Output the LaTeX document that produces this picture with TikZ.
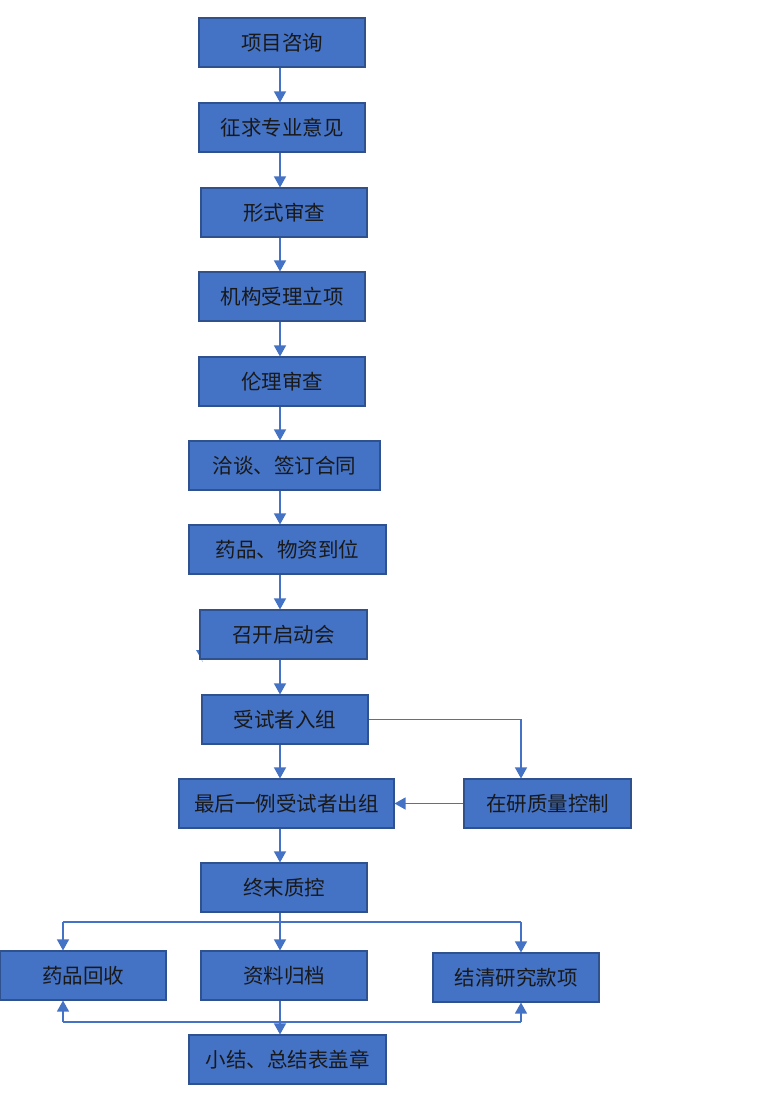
\documentclass[tikz,border=0pt]{standalone}
\usepackage{fontspec}
\newfontfamily\cjk{Noto Sans CJK SC}
\usetikzlibrary{arrows.meta}
\definecolor{boxfill}{HTML}{4472C4}
\definecolor{boxline}{HTML}{2F528F}
\definecolor{conn}{HTML}{4472C4}
\begin{document}
\begin{tikzpicture}[x=1pt,y=-1pt,
  stepbox/.style={draw=boxline, fill=boxfill, line width=1.1pt, minimum height=49pt, inner sep=0pt,
    font=\cjk\fontsize{20.5}{24}\selectfont, text=black!90},
  link/.style={draw=conn, line width=1.3pt},
  arr/.style={link, -{Triangle[width=12pt,length=11pt]}}]
\path[use as bounding box] (0,0) rectangle (764,1096);
\coordinate (ax) at (280,0);
\coordinate (lx) at (63,0);
\coordinate (rx) at (521,0);
\node[stepbox, minimum width=166pt] (i1) at (282,42.5) {项目咨询};
\node[stepbox, minimum width=166pt] (i2) at (282,127.5) {征求专业意见};
\node[stepbox, minimum width=166pt] (i3) at (284,212.5) {形式审查};
\node[stepbox, minimum width=166pt] (i4) at (282,296.5) {机构受理立项};
\node[stepbox, minimum width=166pt] (i5) at (282,381.5) {伦理审查};
\node[stepbox, minimum width=191pt] (i6) at (284.5,465.5) {洽谈、签订合同};
\node[stepbox, minimum width=197pt] (i7) at (287.5,549.5) {药品、物资到位};
\fill[boxfill] (196,650) -- (201.5,650) -- (201.5,660) -- (203,662) -- cycle;
\node[stepbox, minimum width=167pt] (i8) at (283.5,634.5) {召开启动会};
\node[stepbox, minimum width=166pt] (i9) at (285,719.5) {受试者入组};
\node[stepbox, minimum width=215pt] (i10) at (286.5,803.5) {最后一例受试者出组};
\node[stepbox, minimum width=167pt] (i11) at (547.5,803.5) {在研质量控制};
\node[stepbox, minimum width=166pt] (i12) at (284,887.5) {终末质控};
\node[stepbox, minimum width=166pt] (i13) at (83,975.5) {药品回收};
\node[stepbox, minimum width=166pt] (i14) at (284,975.5) {资料归档};
\node[stepbox, minimum width=166pt] (i15) at (516,977.5) {结清研究款项};
\node[stepbox, minimum width=197pt] (i16) at (287.5,1059.5) {小结、总结表盖章};
\foreach \a/\b in {i1/i2,i2/i3,i3/i4,i4/i5,i5/i6,i6/i7,i7/i8,i8/i9,i9/i10,i10/i12}
  \draw[arr] (\a.south -| ax) -- (\b.north -| ax);
\draw[arr] (i9.east) -| (rx |- i11.north);
\draw[arr] (i11.west) -- (i10.east);
\coordinate (fan) at (280,922);
\draw[link] (i12.south -| ax) -- (fan);
\draw[link] (lx |- fan) -- (rx |- fan);
\draw[arr] (lx |- fan) -- (lx |- i13.north);
\draw[arr] (fan) -- (ax |- i14.north);
\draw[arr] (rx |- fan) -- (rx |- i15.north);
\coordinate (join) at (280,1022);
\draw[arr] (i14.south -| ax) -- (i16.north -| ax);
\draw[link] (lx |- join) -- (rx |- join);
\draw[arr] (lx |- join) -- (lx |- i13.south);
\draw[arr] (rx |- join) -- (rx |- i15.south);
\end{tikzpicture}
\end{document}
